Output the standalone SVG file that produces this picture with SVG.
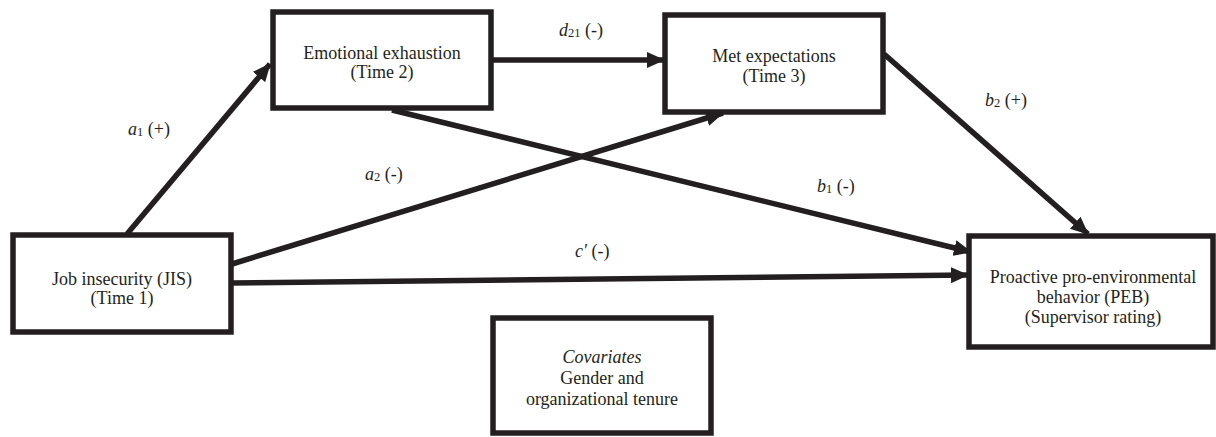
<svg xmlns="http://www.w3.org/2000/svg" width="1216" height="437" viewBox="0 0 1216 437">
<style>
.box{fill:#fff;stroke:#231f20;stroke-width:5.5}
.t{font-family:"Liberation Serif","Times New Roman",serif;font-size:18px;fill:#231f20;text-anchor:middle}
.l{font-family:"Liberation Serif","Times New Roman",serif;font-size:18px;fill:#231f20}
.i{font-style:italic}
.s{font-size:12.5px}
.c{stroke:#231f20;stroke-width:5.5;fill:none}
</style>
<defs>
<marker id="ah" markerUnits="userSpaceOnUse" markerWidth="18" markerHeight="16" refX="17" refY="8" orient="auto" viewBox="0 0 18 16">
<path d="M0,0 L18,8 L0,16 z" fill="#231f20"/>
</marker>
</defs>
<g id="connectors">
<line class="c" x1="127" y1="234" x2="270" y2="64" marker-end="url(#ah)"/>
<line class="c" x1="491" y1="60" x2="664" y2="60" marker-end="url(#ah)"/>
<line class="c" x1="232" y1="264" x2="723" y2="113" marker-end="url(#ah)"/>
<line class="c" x1="392" y1="110" x2="971" y2="252" marker-end="url(#ah)"/>
<line class="c" x1="884" y1="54" x2="1088" y2="234" marker-end="url(#ah)"/>
<line class="c" x1="232" y1="283" x2="968" y2="275" marker-end="url(#ah)"/>
<text class="l" x="128" y="135"><tspan class="i">a</tspan><tspan class="s" dy="1">1</tspan><tspan dy="-1"> (+)</tspan></text>
<text class="l" x="559" y="36"><tspan class="i">d</tspan><tspan class="s" dy="1">21</tspan><tspan dy="-1"> (-)</tspan></text>
<text class="l" x="365" y="180"><tspan class="i">a</tspan><tspan class="s" dy="1">2</tspan><tspan dy="-1"> (-)</tspan></text>
<text class="l" x="817" y="192"><tspan class="i">b</tspan><tspan class="s" dy="1">1</tspan><tspan dy="-1"> (-)</tspan></text>
<text class="l" x="985" y="106"><tspan class="i">b</tspan><tspan class="s" dy="1">2</tspan><tspan dy="-1"> (+)</tspan></text>
<text class="l" x="575" y="257"><tspan class="i">c′</tspan> (-)</text>
</g>
<g id="jis">
<rect class="box" x="13" y="235" width="218" height="97"/>
<text class="t" x="122" y="285">Job insecurity (JIS)</text>
<text class="t" x="122" y="304">(Time 1)</text>
</g>
<g id="ee">
<rect class="box" x="273" y="12" width="218" height="96"/>
<text class="t" x="382" y="59">Emotional exhaustion</text>
<text class="t" x="382" y="78">(Time 2)</text>
</g>
<g id="me">
<rect class="box" x="665" y="15" width="218" height="97"/>
<text class="t" x="774" y="62">Met expectations</text>
<text class="t" x="774" y="82">(Time 3)</text>
</g>
<g id="peb">
<rect class="box" x="969" y="236" width="244" height="111"/>
<text class="t" x="1093" y="283">Proactive pro-environmental</text>
<text class="t" x="1093" y="303">behavior (PEB)</text>
<text class="t" x="1093" y="323">(Supervisor rating)</text>
</g>
<g id="covariates">
<rect class="box" x="493" y="318" width="218" height="115"/>
<text class="t i" x="602" y="363">Covariates</text>
<text class="t" x="602" y="384">Gender and</text>
<text class="t" x="602" y="405">organizational tenure</text>
</g>
</svg>
